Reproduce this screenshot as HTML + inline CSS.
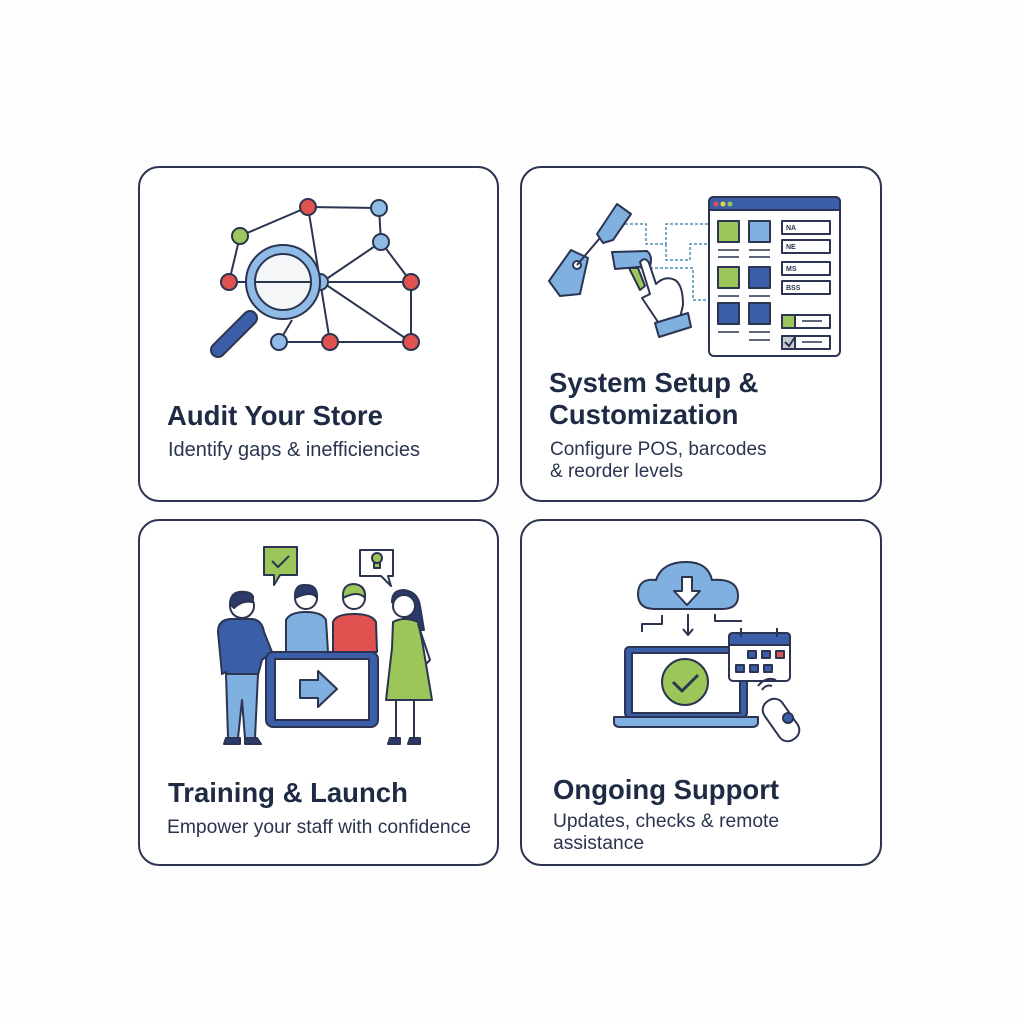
<!DOCTYPE html>
<html><head><meta charset="utf-8"><style>
body{margin:0;width:1024px;height:1024px;background:#fdfdfd;overflow:hidden;font-family:"Liberation Sans",Arial,sans-serif;}
svg{position:absolute;left:0;top:0}
</style></head><body>
<svg width="1024" height="1024" viewBox="0 0 1024 1024" font-family="Liberation Sans, Arial, sans-serif">
<g fill="#fff" stroke="#2b3450" stroke-width="2">
<rect x="139" y="167" width="359" height="334" rx="20"/>
<rect x="521" y="167" width="360" height="334" rx="20"/>
<rect x="139" y="520" width="359" height="345" rx="20"/>
<rect x="521" y="520" width="360" height="345" rx="20"/>
</g>
<!-- card1 network -->
<g stroke="#2b3450" stroke-width="2" fill="none">
<path d="M240 236 L308 207 L379 208 L381 242 L411 282 L411 342 L330 342 L279 342 M240 236 L229 282 M308 207 L330 342 M322 282 L381 242 M322 282 L411 282 M322 282 L411 342 M229 282 L322 282 M279 342 L292 320"/>
</g>
<g stroke="#2b3450" stroke-width="2">
<circle cx="308" cy="207" r="8" fill="#e0524f"/>
<circle cx="379" cy="208" r="8" fill="#8fbbe6"/>
<circle cx="240" cy="236" r="8" fill="#9cc65a"/>
<circle cx="381" cy="242" r="8" fill="#8fbbe6"/>
<circle cx="229" cy="282" r="8" fill="#e0524f"/>
<circle cx="411" cy="282" r="8" fill="#e0524f"/>
<circle cx="279" cy="342" r="8" fill="#8fbbe6"/>
<circle cx="330" cy="342" r="8" fill="#e0524f"/>
<circle cx="411" cy="342" r="8" fill="#e0524f"/>
<circle cx="320" cy="282" r="8" fill="#8fbbe6"/>
<line x1="250" y1="318" x2="218" y2="350" stroke="#2b3450" stroke-width="16" stroke-linecap="round"/>
<line x1="250" y1="318" x2="218" y2="350" stroke="#3b5ea8" stroke-width="12" stroke-linecap="round"/>
<circle cx="283" cy="282" r="37" fill="#8fbbe6"/>
<circle cx="283" cy="282" r="28" fill="#f4f6f8"/>
<line x1="255" y1="282" x2="311" y2="282"/>
</g>
<text x="167" y="425" font-size="27.5" font-weight="bold" fill="#1f2a44">Audit Your Store</text>
<text x="168" y="456" font-size="20" fill="#2b3450">Identify gaps &amp; inefficiencies</text>

<!-- card2 -->
<g stroke="#4a8fb5" stroke-width="1.5" stroke-dasharray="3 2" fill="none">
<path d="M625 224 H646 V244 H666 V224 H708 M666 244 V260 H690 V244 H708 M640 268 H693 V300 H708"/>
</g>
<g stroke="#2b3450" stroke-width="2" stroke-linejoin="round">
<path d="M549 281 L571 250 L588 258 L580 294 L560 296 Z" fill="#7fb0e0"/>
<circle cx="577" cy="265" r="4" fill="#fff"/>
<line x1="577" y1="265" x2="605" y2="232"/>
<path d="M597 234 L617 204 L631 214 L613 240 L603 243 Z" fill="#7fb0e0"/>
<path d="M612 252 L647 251 Q653 256 650 266 L615 269 Z" fill="#7fb0e0"/>
<path d="M629 268 L640 290 L645 286 L638 268Z" fill="#9cc65a"/>
<path d="M640 262 Q645 256 649 263 L656 284 Q665 275 675 280 Q683 285 683 305 L680 318 L660 325 L642 298 L650 294Z" fill="#fff"/>
<path d="M655 323 L688 313 L691 327 L659 337 Z" fill="#7fb0e0"/>
<rect x="709" y="197" width="131" height="159" rx="5" fill="#fff"/>
<path d="M709 210 V202 Q709 197 714 197 H835 Q840 197 840 202 V210Z" fill="#3b5ea8"/>
<rect x="718" y="221" width="21" height="21" fill="#9cc65a"/>
<rect x="749" y="221" width="21" height="21" fill="#7fb0e0"/>
<rect x="718" y="267" width="21" height="21" fill="#9cc65a"/>
<rect x="749" y="267" width="21" height="21" fill="#3b5ea8"/>
<rect x="718" y="303" width="21" height="21" fill="#3b5ea8"/>
<rect x="749" y="303" width="21" height="21" fill="#3b5ea8"/>
<rect x="782" y="221" width="48" height="13" fill="#fff"/>
<rect x="782" y="240" width="48" height="13" fill="#fff"/>
<rect x="782" y="262" width="48" height="13" fill="#fff"/>
<rect x="782" y="281" width="48" height="13" fill="#fff"/>
<rect x="782" y="315" width="48" height="13" fill="#fff"/>
<rect x="782" y="336" width="48" height="13" fill="#fff"/>
<rect x="782" y="315" width="13" height="13" fill="#9cc65a"/>
<rect x="782" y="336" width="13" height="13" fill="#c8ccd4"/>
</g>
<circle cx="716" cy="204" r="2.5" fill="#e0524f"/><circle cx="723" cy="204" r="2.5" fill="#e6d24a"/><circle cx="730" cy="204" r="2.5" fill="#9cc65a"/>
<g stroke="#2b3450" stroke-width="1.5">
<path d="M718 250h21M749 250h21M718 257h21M749 257h21M718 296h21M749 296h21M718 332h21M749 332h21M749 340h21M802 321h20M802 342h20"/>
<path d="M785 342l4 4 6-9" fill="none" stroke-width="2"/>
</g>
<g font-size="7" font-weight="bold" fill="#2b3450"><text x="786" y="230">NA</text><text x="786" y="249">NE</text><text x="786" y="271">MS</text><text x="786" y="290">BSS</text></g>
<text x="549" y="392" font-size="27.5" font-weight="bold" fill="#1f2a44">System Setup &amp;</text>
<text x="549" y="424" font-size="27.5" font-weight="bold" fill="#1f2a44">Customization</text>
<text x="550" y="455" font-size="19" fill="#2b3450">Configure POS, barcodes</text>
<text x="550" y="477" font-size="19" fill="#2b3450">&amp; reorder levels</text>

<!-- card3 -->
<g stroke="#2b3450" stroke-width="2" stroke-linejoin="round">
<path d="M264 547 H297 V575 H280 L274 585 L274 575 H264Z" fill="#9cc65a"/>
<path d="M272 561 l6 6 11-11" fill="none"/>
<path d="M360 550 H393 V576 H388 L391 586 L381 576 H360Z" fill="#fff"/>
<circle cx="377" cy="558" r="5" fill="#9cc65a"/><rect x="374" y="563" width="6" height="5" fill="#9cc65a"/>
<path d="M218 632 Q218 620 230 619 H252 Q262 620 264 632 L272 652 L262 660 L258 675 H228 L226 672 L222 674 Z" fill="#3b5ea8"/>
<path d="M226 674 H258 L255 738 H245 L242 700 L238 738 H228Z" fill="#7fb0e0"/>
<circle cx="242" cy="606" r="12" fill="#fff"/><path d="M230 604 Q230 590 246 592 Q256 594 252 602 Q242 600 234 608Z" fill="#2b3a6a"/>
<path d="M226 738h14v6h-16zM245 738h12l4 6h-16z" fill="#2b3a6a"/>
<path d="M286 620 Q290 612 306 612 Q322 612 326 620 L328 652 H286Z" fill="#7fb0e0"/>
<circle cx="306" cy="598" r="11" fill="#fff"/><path d="M295 598 Q294 584 306 585 Q318 585 317 598 Q312 590 295 598Z" fill="#2b3a6a"/>
<path d="M333 622 Q336 614 354 614 Q372 614 376 622 L377 652 H333Z" fill="#e0524f"/>
<circle cx="354" cy="598" r="11" fill="#fff"/><path d="M343 598 Q342 584 354 584 Q366 585 365 598 Q358 590 343 598Z" fill="#9cc65a"/>
<path d="M392 602 Q392 590 404 590 Q418 592 420 606 L424 630 L412 630 Z" fill="#2b3a6a"/>
<circle cx="404" cy="606" r="11" fill="#fff"/>
<path d="M393 622 Q404 616 418 622 L422 640 L432 700 H386 L392 648Z" fill="#9cc65a"/>
<path d="M418 624 L430 660 L426 664" fill="none"/>
<path d="M396 700 V738 M414 700 V738" fill="none"/>
<path d="M390 738h10v6h-12zM410 738h10v6h-12z" fill="#2b3a6a"/>
<rect x="266" y="652" width="112" height="75" rx="7" fill="#3b5ea8"/>
<rect x="275" y="659" width="94" height="61" fill="#fff"/>
<path d="M300 680 H318 V671 L337 689 L318 707 V698 H300Z" fill="#7fb0e0"/>
</g>
<text x="168" y="802" font-size="27.5" font-weight="bold" fill="#1f2a44">Training &amp; Launch</text>
<text x="167" y="833" font-size="19.3" fill="#2b3450">Empower your staff with confidence</text>

<!-- card4 -->
<g stroke="#2b3450" stroke-width="2" stroke-linejoin="round">
<path d="M655 609 Q638 609 638 594 Q638 578 656 580 Q662 562 686 562 Q708 562 712 580 Q738 578 738 596 Q738 609 722 609Z" fill="#7fb0e0"/>
<path d="M682 577 H692 V591 H700 L687 605 L674 591 H682Z" fill="#fff"/>
<path d="M662 615 V624 H642 V632 M688 614 V635 M683 629 L688 635 L693 629 M715 614 V621 H742" fill="none"/>
<rect x="625" y="647" width="122" height="70" rx="4" fill="#3b5ea8"/>
<rect x="632" y="653" width="108" height="60" fill="#fff"/>
<path d="M614 717 H758 V722 Q758 727 752 727 H620 Q614 727 614 722Z" fill="#7fb0e0"/>
<circle cx="685" cy="682" r="23" fill="#9cc65a"/>
<path d="M673 682 l9 9 16-16" fill="none" stroke-width="3"/>
<rect x="729" y="633" width="61" height="48" rx="4" fill="#fff"/>
<path d="M729 645 V637 Q729 633 733 633 H786 Q790 633 790 637 V645Z" fill="#3b5ea8"/>
<path d="M741 628v9M777 628v9" fill="none"/>
<rect x="748" y="651" width="8" height="7" fill="#3b5ea8"/><rect x="762" y="651" width="8" height="7" fill="#3b5ea8"/><rect x="776" y="651" width="8" height="7" fill="#e0524f"/>
<rect x="736" y="665" width="8" height="7" fill="#3b5ea8"/><rect x="750" y="665" width="8" height="7" fill="#3b5ea8"/><rect x="764" y="665" width="8" height="7" fill="#3b5ea8"/>
<rect x="770" y="697" width="22" height="46" rx="10" transform="rotate(-35 781 720)" fill="#fff"/>
<circle cx="788" cy="718" r="5" fill="#3b5ea8"/>
<path d="M762 690 q4-6 10-4 M758 686 q8-10 18-6" fill="none"/>
</g>
<text x="553" y="799" font-size="27.5" font-weight="bold" fill="#1f2a44">Ongoing Support</text>
<text x="553" y="827" font-size="19.3" fill="#2b3450">Updates, checks &amp; remote</text>
<text x="553" y="849" font-size="19.3" fill="#2b3450">assistance</text>
</svg>
</body></html>
